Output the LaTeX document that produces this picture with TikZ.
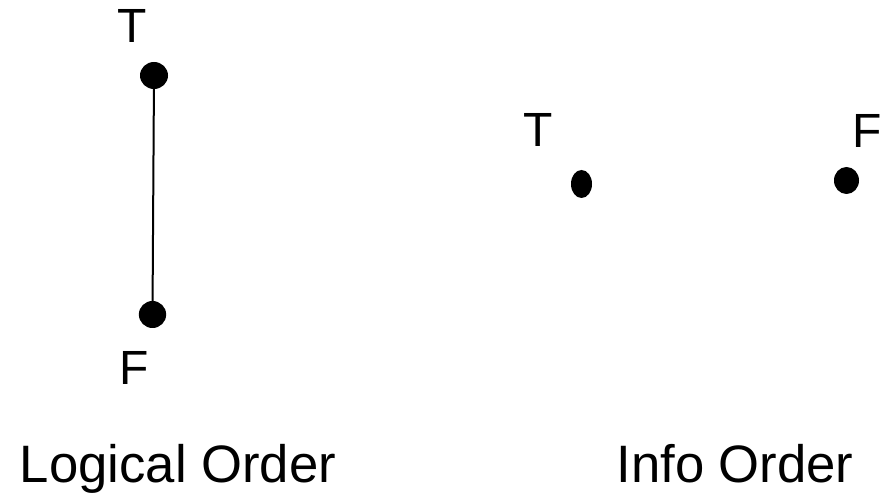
\documentclass[tikz,border=0pt]{standalone}
\usepackage{fontspec}
\setmainfont{Liberation Sans}
\usetikzlibrary{shapes.geometric}
\begin{document}
\begin{tikzpicture}[x=0.75pt,y=-0.75pt,
  dot/.style={ellipse,fill=black,draw=none,inner sep=0pt},
  lbl/.style={anchor=base,inner sep=0pt,font=\fontsize{36pt}{40pt}\selectfont},
  captxt/.style={anchor=base,inner sep=0pt,font=\fontsize{39.5pt}{44pt}\selectfont}]
\useasboundingbox (0,0) rectangle (889,495);
% logical order
\node[dot,minimum width=21pt,minimum height=20.25pt] (lt) at (154,75.5) {};
\node[dot,minimum width=20.5pt,minimum height=20.25pt] (lf) at (152.5,314.5) {};
\draw[line width=1.5pt] (lt.center) -- (lf.center);
\node[lbl] (ltl) at (132,43) {T};
\node[lbl] (lfl) at (134,384) {F};
\node[captxt] (lcap) at (178,482) {Logical Order};
% info order
\node[dot,minimum width=15.75pt,minimum height=21pt] (it) at (581.5,184) {};
\node[dot,minimum width=18.75pt,minimum height=20.25pt] (if) at (846.5,180.5) {};
\node[lbl] (itl) at (538,147) {T};
\node[lbl] (ifl) at (867,148) {F};
\node[captxt] (icap) at (735,482) {Info Order};
\end{tikzpicture}
\end{document}
